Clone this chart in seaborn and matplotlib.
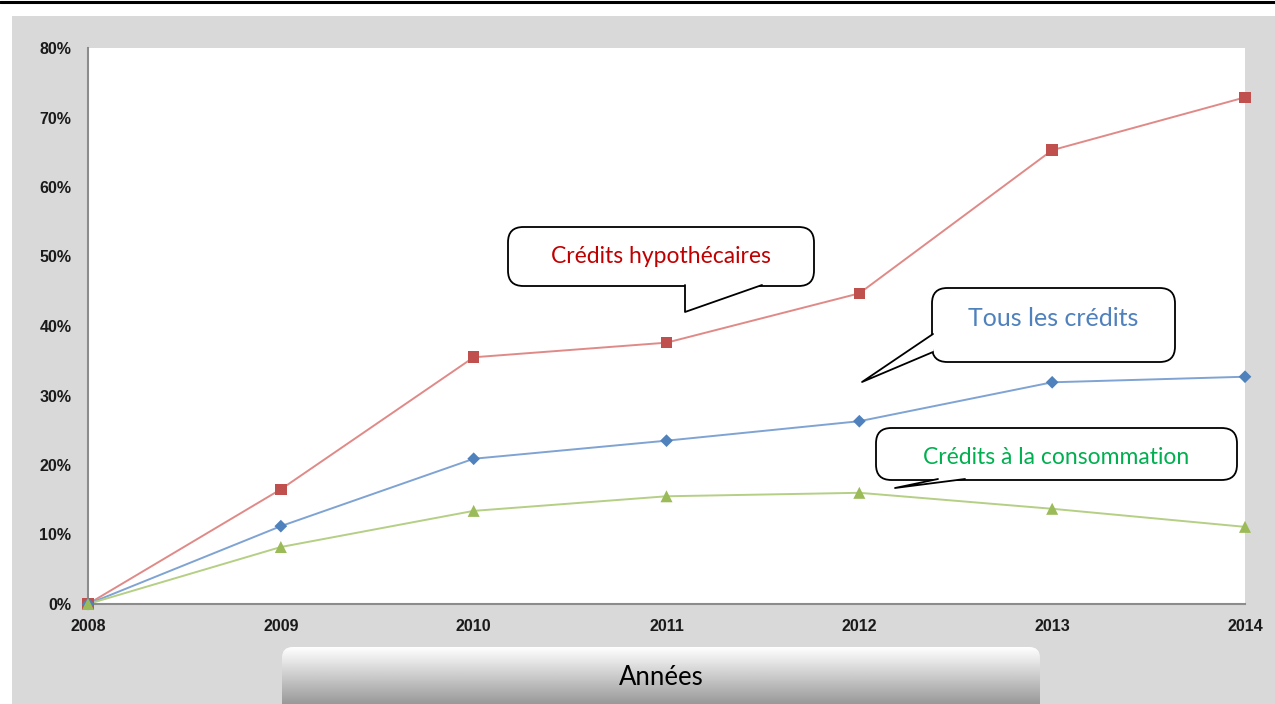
import numpy as np
import pandas as pd
import matplotlib
matplotlib.use("Agg")
import matplotlib.pyplot as plt
import seaborn as sns
from matplotlib.patches import FancyBboxPatch, Polygon, Rectangle
from matplotlib.lines import Line2D
from matplotlib.ticker import PercentFormatter

# données
annees = [2008, 2009, 2010, 2011, 2012, 2013, 2014]
hypothecaires = [0.0, 16.5, 35.5, 37.6, 44.7, 65.3, 72.9]
tous = [0.0, 11.2, 20.9, 23.5, 26.3, 31.9, 32.7]
consommation = [0.0, 8.2, 13.4, 15.5, 16.0, 13.7, 11.1]
series = ["Crédits hypothécaires", "Tous les crédits", "Crédits à la consommation"]

df = pd.DataFrame({
    "annee": annees * 3,
    "valeur": hypothecaires + tous + consommation,
    "serie": [series[0]] * 7 + [series[1]] * 7 + [series[2]] * 7,
})

col_ligne = {series[0]: "#e08a88", series[1]: "#7fa3d3", series[2]: "#b5cf85"}
col_point = {series[0]: "#c0504d", series[1]: "#4f81bd", series[2]: "#9bbb59"}
marqueurs = {series[0]: "s", series[1]: "D", series[2]: "^"}
tailles = {series[0]: 70, series[1]: 42, series[2]: 75}

sns.set_style("white")
W, H = 1275, 704
fig = plt.figure(figsize=(W / 100, H / 100), dpi=100)
fig.patch.set_facecolor("white")

def px(x, y):
    return (x / W, 1 - y / H)

# fond gris et ligne du haut
fig.patches.append(Rectangle(px(12, 704), (W - 12) / W, (704 - 16) / H,
                             transform=fig.transFigure, facecolor="#d9d9d9",
                             edgecolor="none", zorder=-10))
fig.lines.append(Line2D([0, 1], [1 - 2 / H, 1 - 2 / H], transform=fig.transFigure,
                        color="black", lw=2.2))

ax = fig.add_axes([88 / W, 1 - 604 / H, (1245 - 88) / W, (604 - 48) / H])
ax.set_facecolor("white")

sns.lineplot(data=df, x="annee", y="valeur", hue="serie", palette=col_ligne,
             linewidth=1.4, legend=False, ax=ax)
for s in series:
    d = df[df["serie"] == s]
    sns.scatterplot(data=d, x="annee", y="valeur", color=col_point[s],
                    marker=marqueurs[s], s=tailles[s], edgecolor="none",
                    ax=ax, zorder=5, clip_on=False, legend=False)

ax.set_xlim(2008, 2014)
ax.set_ylim(0, 80)
ax.set_xticks(annees)
ax.set_yticks(range(0, 81, 10))
ax.yaxis.set_major_formatter(PercentFormatter(decimals=0))
ax.set_xlabel("")
ax.set_ylabel("")
for sp in ["top", "right"]:
    ax.spines[sp].set_visible(False)
for sp in ["left", "bottom"]:
    ax.spines[sp].set_color("#8c8c8c")
    ax.spines[sp].set_linewidth(1.5)
ax.tick_params(axis="both", length=4, width=1, color="#8c8c8c",
               labelsize=11.5, direction="out")
ax.tick_params(axis="y", pad=8)
ax.tick_params(axis="x", pad=7)
for lab in ax.get_xticklabels() + ax.get_yticklabels():
    lab.set_fontfamily("Liberation Sans")
    lab.set_fontweight("bold")
    lab.set_color("#1a1a1a")

# bulles
def bulle(x0, y0, x1, y1, queue, texte, couleur, taille, dy):
    box = FancyBboxPatch(px(x0, y1), (x1 - x0) / W, (y1 - y0) / H,
                         boxstyle="round,pad=0,rounding_size=0.012",
                         transform=fig.transFigure, facecolor="white",
                         edgecolor="black", lw=1.3, zorder=10,
                         mutation_aspect=W / H)
    fig.patches.append(box)
    pts = [px(*p) for p in queue]
    fig.patches.append(Polygon(pts, closed=False, transform=fig.transFigure,
                               facecolor="white", edgecolor="none", zorder=11))
    fig.lines.append(Line2D([p[0] for p in pts], [p[1] for p in pts],
                            transform=fig.transFigure, color="black",
                            lw=1.3, zorder=12))
    cx, cy = px((x0 + x1) / 2, (y0 + y1) / 2 + dy)
    fig.text(cx, cy, texte, color=couleur, fontsize=taille, family="Lato",
             ha="center", va="center", zorder=13)

bulle(508, 227, 814, 286, [(685, 285), (685, 312), (762, 285)],
      series[0], "#c00000", 16.5, 0)
bulle(932, 288, 1175, 362, [(933, 334), (862, 382), (933, 352)],
      series[1], "#4f81bd", 18, -6)
bulle(876, 428, 1237, 480, [(938, 479), (895, 488), (965, 479)],
      series[2], "#00b050", 16.5, 3)

# bandeau "Années" en dégradé
bw, bh = 1040 - 282, 704 - 647
gax = fig.add_axes([282 / W, 0, bw / W, bh / H])
gax.set_axis_off()
grad = np.linspace(1.0, 0.6, 100).reshape(-1, 1)
im = gax.imshow(np.repeat(grad, 2, axis=1), cmap="gray", vmin=0, vmax=1,
                aspect="auto", extent=[0, 1, 0, 1], origin="upper")
clip = FancyBboxPatch((0, -0.5), 1, 1.5, boxstyle="round,pad=0,rounding_size=0.014",
                      transform=gax.transAxes, facecolor="none", edgecolor="none",
                      mutation_aspect=bw / bh)
gax.add_patch(clip)
im.set_clip_path(clip)
gax.text(0.5, 0.47, "Années", ha="center", va="center", fontsize=18.5,
         family="Lato", color="black", transform=gax.transAxes)

fig.savefig("out.png", dpi=100)
